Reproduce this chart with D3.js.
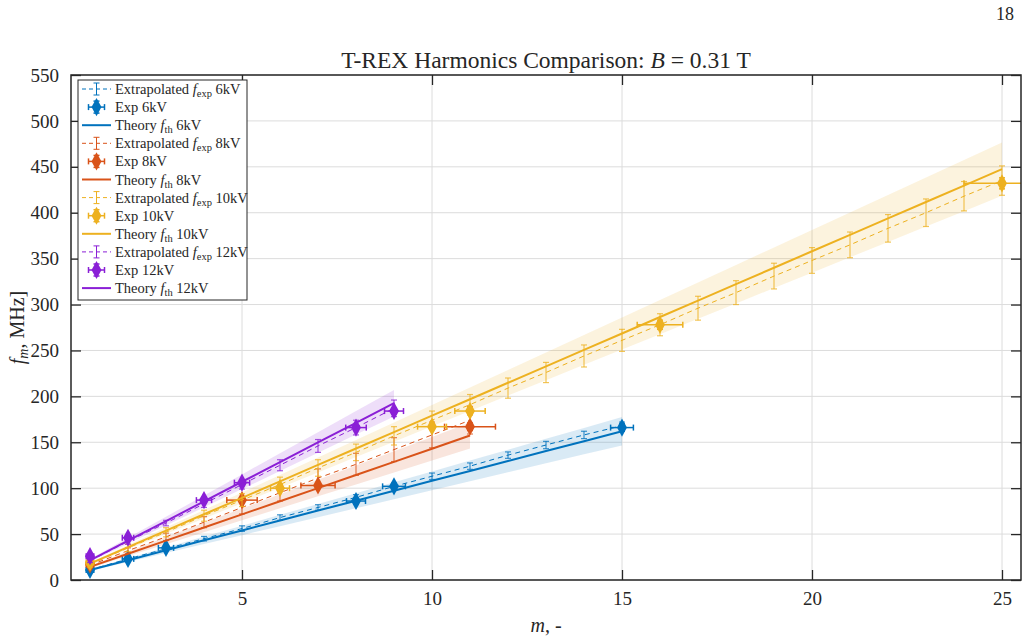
<!DOCTYPE html>
<html>
<head>
<meta charset="utf-8">
<script src="https://cdn.jsdelivr.net/npm/d3@7"></script>
<style>
  body { margin: 0; background: #fff; }
  text { font-family: "Liberation Serif", "DejaVu Serif", serif; fill: #262626; }
  .grid line { stroke: #dcdcdc; stroke-width: 1; }
</style>
</head>
<body>
<svg id="chart" width="1029" height="640"></svg>
<script>
// harmonic numbers
const m6 = [1,2,3,4,5,6,7,8,9,10,11,12,13,14,15];
const m8 = [1,2,3,4,5,6,7,8,9,10,11];
const m10 = [1,2,3,4,5,6,7,8,9,10,11,12,13,14,15,16,17,18,19,20,21,22,23,24,25];
const m12 = [1,2,3,4,5,6,7,8,9];

// extrapolated f_exp [MHz] and errors
const extrap6 = [11, 23, 34, 45, 56, 68, 79, 90, 102, 113, 124, 136, 147, 158, 168];
const extrap6Err = [2, 2, 2.5, 2.5, 3, 3, 3, 3, 3.5, 3.5, 3.5, 3.5, 4, 4, 4];
const extrap8 = [16, 32, 47, 63, 79, 95, 111, 126, 142, 158, 174];
const extrap8Err = [2, 3, 4, 6, 7, 9, 10, 12, 13, 14, 15];
const extrap10 = [17, 35, 52, 70, 87, 104, 122, 139, 157, 174, 191, 209, 226, 244, 261, 278, 296, 313, 331, 348, 365, 383, 400, 418, 435];
const extrap10Err = [3, 4, 5, 6, 7, 8, 9, 9, 10, 10, 11, 11, 11, 12, 12, 12, 13, 13, 14, 14, 14, 15, 15, 16, 16];
const extrap12 = [21, 42, 62, 83, 104, 125, 146, 166, 187];
const extrap12Err = [2, 3, 3, 4, 5, 6, 7, 8, 9];

// theory f_th [MHz]
const theory6 = [10.8, 21.6, 32.4, 43.2, 54, 64.8, 75.6, 86.4, 97.2, 108, 118.8, 129.6, 140.4, 151.2, 162];
const theory8 = [14.3, 28.6, 42.9, 57.2, 71.5, 85.8, 100.1, 114.4, 128.7, 143, 157.3];
const theory10 = [17.9, 35.8, 53.7, 71.6, 89.5, 107.4, 125.3, 143.2, 161.1, 179, 196.9, 214.8, 232.7, 250.6, 268.5, 286.4, 304.3, 322.2, 340.1, 358, 375.9, 393.8, 411.7, 429.6, 447.5];
const theory12 = [21.4, 42.8, 64.2, 85.6, 107, 128.4, 149.8, 171.2, 192.6];
// relative width of theory uncertainty band
const band6 = 0.095, band8 = 0.09, band10 = 0.065, band12 = 0.075;

// measured points
const expM6 = [1, 2, 3, 8, 9, 15];
const exp6 = [11, 23, 35, 86, 102, 166];
const exp6Xerr = [0.1, 0.15, 0.2, 0.25, 0.3, 0.3];
const exp6Yerr = [2, 2, 2, 3, 3, 4];
const expM8 = [1, 5, 7, 11];
const exp8 = [17, 87, 103, 167];
const exp8Xerr = [0.1, 0.4, 0.45, 0.67];
const exp8Yerr = [2, 3, 3, 4];
const expM10 = [1, 6, 10, 11, 16, 25];
const exp10 = [19, 100, 167, 184, 278, 432];
const exp10Xerr = [0.1, 0.25, 0.38, 0.4, 0.6, 1.0];
const exp10Yerr = [2, 3, 3, 4, 5, 6];
const expM12 = [1, 2, 4, 5, 8, 9];
const exp12 = [26, 46, 87, 106, 166, 184];
const exp12Xerr = [0.1, 0.15, 0.2, 0.2, 0.27, 0.25];
const exp12Yerr = [2, 2, 3, 3, 3, 3];

const xTicks = [5, 10, 15, 20, 25];
const yTicks = [0, 50, 100, 150, 200, 250, 300, 350, 400, 450, 500, 550];

const series = [
  {kv: "6kV", color: "#0072BD", m: m6, ex: extrap6, exErr: extrap6Err, th: theory6, band: band6,
   em: expM6, e: exp6, ex_x: exp6Xerr, ex_y: exp6Yerr},
  {kv: "8kV", color: "#D95319", m: m8, ex: extrap8, exErr: extrap8Err, th: theory8, band: band8,
   em: expM8, e: exp8, ex_x: exp8Xerr, ex_y: exp8Yerr},
  {kv: "10kV", color: "#EDB120", m: m10, ex: extrap10, exErr: extrap10Err, th: theory10, band: band10,
   em: expM10, e: exp10, ex_x: exp10Xerr, ex_y: exp10Yerr},
  {kv: "12kV", color: "#8A1FD6", m: m12, ex: extrap12, exErr: extrap12Err, th: theory12, band: band12,
   em: expM12, e: exp12, ex_x: exp12Xerr, ex_y: exp12Yerr}
];

const box = {left: 71, right: 1021, top: 75, bottom: 580};
const svg = d3.select("#chart");

const x = d3.scaleLinear().domain([0.5, 25.5]).range([box.left, box.right]);
const y = d3.scaleLinear().domain([0, 550]).range([box.bottom, box.top]);

svg.append("defs").append("clipPath").attr("id", "plotclip")
  .append("rect")
  .attr("x", box.left).attr("y", box.top)
  .attr("width", box.right - box.left).attr("height", box.bottom - box.top);

// grid
let grid = svg.append("g").attr("class", "grid");
grid.selectAll(".gx").data(xTicks).enter().append("line")
  .attr("x1", d => x(d)).attr("x2", d => x(d))
  .attr("y1", box.top).attr("y2", box.bottom);
grid.selectAll(".gy").data(yTicks).enter().append("line")
  .attr("x1", box.left).attr("x2", box.right)
  .attr("y1", d => y(d)).attr("y2", d => y(d));

let plot = svg.append("g").attr("clip-path", "url(#plotclip)");

// theory bands
series.forEach(function(s) {
  let area = d3.area()
    .x((d, i) => x(s.m[i]))
    .y0(d => y(d * (1 - s.band)))
    .y1(d => y(d * (1 + s.band)));
  plot.append("path").datum(s.th)
    .attr("d", area)
    .attr("fill", s.color).attr("fill-opacity", 0.15).attr("stroke", "none");
});

const diamond = d3.symbol().type(d3.symbolDiamond).size(95);
const diamondScale = "scale(0.95,1.0)";
const cap = 3;

series.forEach(function(s) {
  // extrapolated dashed line with error bars
  let exLine = d3.line().x((d, i) => x(s.m[i])).y(d => y(d));
  plot.append("path").datum(s.ex)
    .attr("d", exLine)
    .attr("fill", "none").attr("stroke", s.color).attr("stroke-width", 1)
    .attr("stroke-dasharray", "5,4");
  let eb = plot.append("g").attr("stroke", s.color).attr("stroke-width", 1.2).attr("stroke-opacity", 0.75);
  s.ex.forEach(function(v, i) {
    let cx = x(s.m[i]);
    eb.append("line").attr("x1", cx).attr("x2", cx).attr("y1", y(v - s.exErr[i])).attr("y2", y(v + s.exErr[i]));
    eb.append("line").attr("x1", cx - cap).attr("x2", cx + cap).attr("y1", y(v - s.exErr[i])).attr("y2", y(v - s.exErr[i]));
    eb.append("line").attr("x1", cx - cap).attr("x2", cx + cap).attr("y1", y(v + s.exErr[i])).attr("y2", y(v + s.exErr[i]));
  });

  // measured points with x / y error bars
  let pg = plot.append("g").attr("stroke", s.color).attr("stroke-width", 1.5);
  s.e.forEach(function(v, i) {
    let cx = x(s.em[i]), cy = y(v);
    let x0 = x(s.em[i] - s.ex_x[i]), x1 = x(s.em[i] + s.ex_x[i]);
    let y0 = y(v - s.ex_y[i]), y1 = y(v + s.ex_y[i]);
    pg.append("line").attr("x1", x0).attr("x2", x1).attr("y1", cy).attr("y2", cy);
    pg.append("line").attr("x1", x0).attr("x2", x0).attr("y1", cy - cap).attr("y2", cy + cap);
    pg.append("line").attr("x1", x1).attr("x2", x1).attr("y1", cy - cap).attr("y2", cy + cap);
    pg.append("line").attr("x1", cx).attr("x2", cx).attr("y1", y0).attr("y2", y1);
    pg.append("line").attr("x1", cx - cap).attr("x2", cx + cap).attr("y1", y0).attr("y2", y0);
    pg.append("line").attr("x1", cx - cap).attr("x2", cx + cap).attr("y1", y1).attr("y2", y1);
    pg.append("path").attr("d", diamond)
      .attr("transform", "translate(" + cx + "," + cy + ") " + diamondScale)
      .attr("fill", s.color).attr("stroke", "none");
  });

  // theory line
  let thLine = d3.line().x((d, i) => x(s.m[i])).y(d => y(d));
  plot.append("path").datum(s.th)
    .attr("d", thLine)
    .attr("fill", "none").attr("stroke", s.color).attr("stroke-width", 2);
});

// axes box and ticks (inward ticks on all sides)
let axG = svg.append("g");
axG.append("rect")
  .attr("x", box.left).attr("y", box.top)
  .attr("width", box.right - box.left).attr("height", box.bottom - box.top)
  .attr("fill", "none").attr("stroke", "#262626").attr("stroke-width", 1.5);

let xAxis = d3.axisBottom(x).tickValues(xTicks).tickSizeInner(-10).tickSizeOuter(0).tickPadding(12);
let xAxisTop = d3.axisTop(x).tickValues(xTicks).tickSizeInner(-10).tickSizeOuter(0).tickFormat("");
let yAxis = d3.axisLeft(y).tickValues(yTicks).tickSizeInner(-10).tickSizeOuter(0).tickPadding(12);
let yAxisRight = d3.axisRight(y).tickValues(yTicks).tickSizeInner(-10).tickSizeOuter(0).tickFormat("");

function styleAxis(g) {
  g.select(".domain").remove();
  g.selectAll(".tick line").attr("stroke", "#262626").attr("stroke-width", 1.3);
  g.selectAll(".tick text").style("font-family", "Liberation Serif, serif").style("font-size", "19px").attr("fill", "#262626");
}
axG.append("g").attr("transform", "translate(0," + box.bottom + ")").call(xAxis).call(styleAxis);
axG.append("g").attr("transform", "translate(0," + box.top + ")").call(xAxisTop).call(styleAxis);
axG.append("g").attr("transform", "translate(" + box.left + ",0)").call(yAxis).call(styleAxis);
axG.append("g").attr("transform", "translate(" + box.right + ",0)").call(yAxisRight).call(styleAxis);

// title and labels
let title = svg.append("text")
  .attr("x", (box.left + box.right) / 2).attr("y", 68)
  .attr("text-anchor", "middle").style("font-size", "23.5px");
title.append("tspan").text("T-REX Harmonics Comparison: ");
title.append("tspan").style("font-style", "italic").text("B");
title.append("tspan").text(" = 0.31 T");

let xl = svg.append("text")
  .attr("x", (box.left + box.right) / 2).attr("y", 632)
  .attr("text-anchor", "middle").style("font-size", "20px");
xl.append("tspan").style("font-style", "italic").text("m");
xl.append("tspan").text(", -");

let yl = svg.append("text")
  .attr("transform", "translate(24," + ((box.top + box.bottom) / 2) + ") rotate(-90)")
  .attr("text-anchor", "middle").style("font-size", "20px");
yl.append("tspan").style("font-style", "italic").text("f");
yl.append("tspan").style("font-style", "italic").style("font-size", "14px").attr("dy", 4).text("m");
yl.append("tspan").attr("dy", -4).text(", MHz]");

svg.append("text").attr("x", 1014).attr("y", 20).attr("text-anchor", "end")
  .style("font-size", "18px").text("18");

// legend
let lg = svg.append("g").attr("transform", "translate(78,80)");
lg.append("rect").attr("x", 0).attr("y", 0).attr("width", 169).attr("height", 220)
  .attr("fill", "#fff").attr("stroke", "#262626").attr("stroke-width", 1);
const rowH = 18.1;
series.forEach(function(s, k) {
  let rows = [
    {type: "ex", label: ["Extrapolated ", "f", "exp", " " + s.kv]},
    {type: "exp", label: ["Exp " + s.kv]},
    {type: "th", label: ["Theory ", "f", "th", " " + s.kv]}
  ];
  rows.forEach(function(r, j) {
    let cy = 9 + (k * 3 + j) * rowH;
    let g = lg.append("g").attr("transform", "translate(0," + cy + ")");
    let sx0 = 4, sx1 = 33, mid = 18.5;
    if (r.type === "ex") {
      g.append("line").attr("x1", sx0).attr("x2", sx1).attr("y1", 0).attr("y2", 0)
        .attr("stroke", s.color).attr("stroke-dasharray", "4,3");
      g.append("line").attr("x1", mid).attr("x2", mid).attr("y1", -6).attr("y2", 6).attr("stroke", s.color);
      g.append("line").attr("x1", mid - 3).attr("x2", mid + 3).attr("y1", -6).attr("y2", -6).attr("stroke", s.color);
      g.append("line").attr("x1", mid - 3).attr("x2", mid + 3).attr("y1", 6).attr("y2", 6).attr("stroke", s.color);
    } else if (r.type === "exp") {
      g.append("line").attr("x1", mid - 8).attr("x2", mid + 8).attr("y1", 0).attr("y2", 0).attr("stroke", s.color).attr("stroke-width", 1.5);
      g.append("line").attr("x1", mid - 8).attr("x2", mid - 8).attr("y1", -3).attr("y2", 3).attr("stroke", s.color).attr("stroke-width", 1.5);
      g.append("line").attr("x1", mid + 8).attr("x2", mid + 8).attr("y1", -3).attr("y2", 3).attr("stroke", s.color).attr("stroke-width", 1.5);
      g.append("line").attr("x1", mid).attr("x2", mid).attr("y1", -6).attr("y2", 6).attr("stroke", s.color).attr("stroke-width", 1.5);
      g.append("line").attr("x1", mid - 3).attr("x2", mid + 3).attr("y1", -6).attr("y2", -6).attr("stroke", s.color).attr("stroke-width", 1.5);
      g.append("line").attr("x1", mid - 3).attr("x2", mid + 3).attr("y1", 6).attr("y2", 6).attr("stroke", s.color).attr("stroke-width", 1.5);
      g.append("path").attr("d", diamond).attr("transform", "translate(" + mid + ",0) " + diamondScale).attr("fill", s.color);
    } else {
      g.append("line").attr("x1", sx0).attr("x2", sx1).attr("y1", 0).attr("y2", 0)
        .attr("stroke", s.color).attr("stroke-width", 2);
    }
    let t = g.append("text").attr("x", 37).attr("y", 5).style("font-size", "14.5px");
    if (r.label.length === 1) {
      t.text(r.label[0]);
    } else {
      t.append("tspan").text(r.label[0]);
      t.append("tspan").style("font-style", "italic").text(r.label[1]);
      t.append("tspan").style("font-size", "10.5px").attr("dy", 3).text(r.label[2]);
      t.append("tspan").attr("dy", -3).text(r.label[3]);
    }
  });
});
</script>
</body>
</html>
